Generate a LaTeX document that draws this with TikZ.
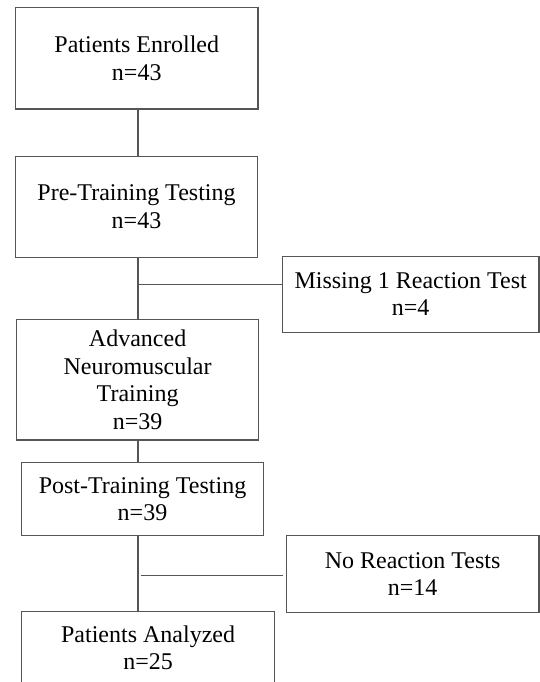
\documentclass[tikz,border=0pt]{standalone}
\usepackage{fontspec}
\setmainfont{Liberation Serif}
\definecolor{linegray}{RGB}{85,85,85}
\begin{document}
\begin{tikzpicture}[x=1pt,y=-1pt,
  box/.style={draw=linegray, line width=1.3pt, rectangle, align=center, inner sep=0pt,
              font=\fontsize{24}{27.5}\selectfont},
  conn/.style={draw=linegray, line width=1.3pt}]
\useasboundingbox (0,0) rectangle (540,682);
\clip (0,0) rectangle (540,682);
\node[box, minimum width=242.5pt, minimum height=101.3pt] (b1) at (136.75,58.35) {Patients Enrolled\\n=43};
\node[box, minimum width=242pt, minimum height=100.8pt] (b2) at (136.5,206.9) {Pre-Training Testing\\n=43};
\node[box, minimum width=256.6pt, minimum height=76.2pt] (s1) at (410.7,294.3) {Missing 1 Reaction Test\\n=4};
\node[box, minimum width=242pt, minimum height=120.7pt] (b3) at (137.6,379.65) {Advanced\\Neuromuscular\\Training\\n=39};
\node[box, minimum width=242pt, minimum height=72.9pt] (b4) at (142.5,499.15) {Post-Training Testing\\n=39};
\node[box, minimum width=252.8pt, minimum height=77.2pt] (s2) at (412.6,573.8) {No Reaction Tests\\n=14};
\node[box, minimum width=253.4pt, minimum height=73pt] (b5) at (148.1,647.9) {Patients Analyzed\\n=25};
\coordinate (j1) at (138,284.8);
\coordinate (j2) at (140.7,575.2);
\coordinate (e2) at (283.4,575.2);
\coordinate (v2) at (138,575.2);
\draw[conn] (b1.south -| j1) -- (b2.north -| j1);
\draw[conn] (b2.south -| j1) -- (b3.north -| j1);
\draw[conn] (j1) -- (j1 -| s1.west);
\draw[conn] (b3.south -| j1) -- (b4.north -| j1);
\draw[conn] (b4.south -| v2) -- (b5.north -| v2);
\draw[conn] (j2) -- (e2);
\end{tikzpicture}
\end{document}
